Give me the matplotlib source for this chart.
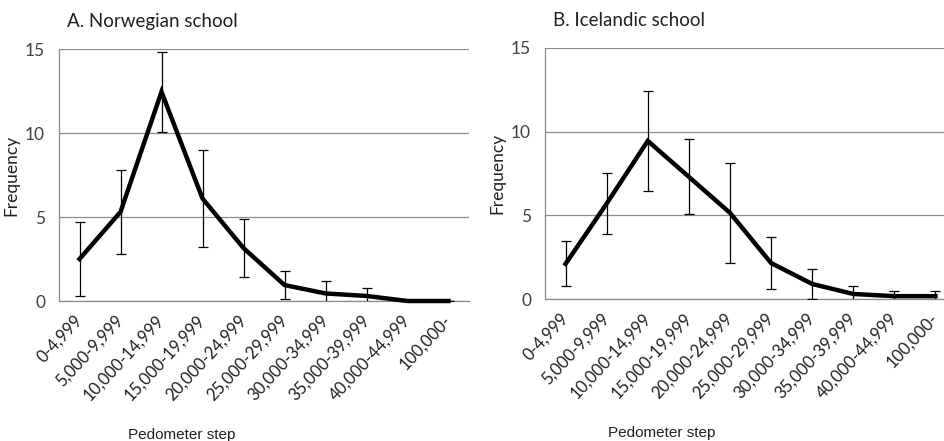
import matplotlib
matplotlib.use("Agg")
import matplotlib.pyplot as plt

# step categories (same for both schools)
categories = ['0-4,999', '5,000-9,999', '10,000-14,999', '15,000-19,999',
              '20,000-24,999', '25,000-29,999', '30,000-34,999',
              '35,000-39,999', '40,000-44,999', '100,000-']

# A. Norwegian school
freq_no = [2.5, 5.3, 12.45, 6.1, 3.15, 0.95, 0.45, 0.3, 0, 0]
err_no = [2.2, 2.5, 2.4, 2.9, 1.75, 0.85, 0.72, 0.45, 0, 0]

# B. Icelandic school
freq_is = [2.1, 5.7, 9.45, 7.3, 5.15, 2.15, 0.9, 0.3, 0.17, 0.17]
err_is = [1.35, 1.8, 3.0, 2.25, 3.0, 1.58, 0.88, 0.45, 0.33, 0.33]

yticks = [0, 5, 10, 15]

fig = plt.figure(figsize=(9.44, 4.41), dpi=100)

panels = [
    ('A. Norwegian school', freq_no, err_no, [59/944, 140/441, 410/944, 252/441], 0.30),
    ('B. Icelandic school', freq_is, err_is, [545/944, 142/441, 411/944, 251/441], 0.285),
]

for title, vals, errs, pos, xlab_x in panels:
    ax = fig.add_axes(pos)
    x = list(range(len(categories)))
    ax.errorbar(x, vals, yerr=errs, fmt='none', ecolor='black',
                elinewidth=0.9, capsize=3.5, capthick=0.9, zorder=3)
    ax.plot(x, vals, color='black', lw=3.2, solid_joinstyle='miter',
            clip_on=False, zorder=4)
    ax.set_xlim(-0.5, len(categories) - 0.5)
    ax.set_ylim(0, 15)
    ax.set_yticks(yticks)
    ax.set_yticklabels([str(t) for t in yticks], family='Lato',
                       fontsize=12.5, color='#404040')
    ax.tick_params(axis='y', length=0, pad=10)
    ax.tick_params(axis='x', length=0, pad=12)
    ax.set_xticks(x)
    ax.set_xticklabels(categories, rotation=47, ha='right', va='center',
                       rotation_mode='anchor', family='Lato',
                       fontsize=12, color='#202020')
    ax.grid(axis='y', color='#8c8c8c', lw=0.9)
    ax.set_axisbelow(True)
    for s in ['top', 'right']:
        ax.spines[s].set_visible(False)
    for s in ['left', 'bottom']:
        ax.spines[s].set_color('#8c8c8c')
        ax.spines[s].set_linewidth(0.9)
    ax.set_ylabel('Frequency', family='Lato', fontsize=12.5, color='#202020')
    ax.set_xlabel('Pedometer step', family='Liberation Sans', fontsize=11,
                  color='#202020')
    ax.xaxis.set_label_coords(xlab_x, -0.505)
    ax.set_title(title, loc='left', family='Lato', fontsize=13.5,
                 color='#202020', pad=16, x=0.02)

fig.savefig('out.png', dpi=100)
